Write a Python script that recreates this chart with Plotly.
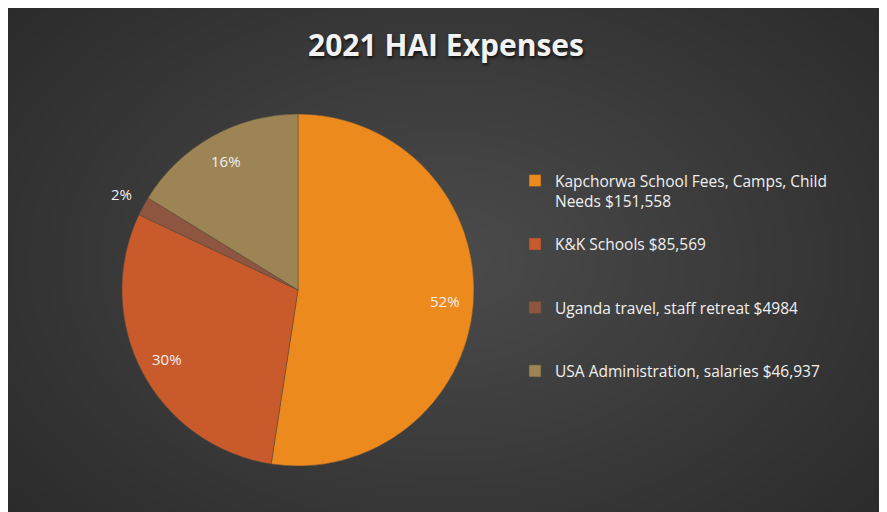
import numpy as np
import plotly.graph_objects as go

labels = [
    "Kapchorwa School Fees, Camps, Child<br>Needs $151,558",
    "K&K Schools $85,569",
    "Uganda travel, staff retreat $4984",
    "USA Administration, salaries $46,937",
]
values = [151558, 85569, 4984, 46937]
colors = ["#ec8a1e", "#c85a2c", "#8e5640", "#9c8455"]
title_text = "2021 HAI Expenses"

# figure sits inside the page body margin (8px)
W, H = 876, 504
CX, CY, R = 290, 282, 176  # pie centre / radius in figure pixels

# background radial gradient (styling only)
gx = np.linspace(0, 1, 60)
gy = np.linspace(0, 1, 40)
X, Y = np.meshgrid(gx, gy)
dist = np.sqrt(((X - 0.5) / 0.75) ** 2 + ((Y - 0.5) / 0.9) ** 2)
Z = 1 - np.clip(dist, 0, 1)

fig = go.Figure()
fig.add_trace(go.Heatmap(
    x=gx, y=gy, z=Z, zsmooth="best", showscale=False, hoverinfo="skip",
    colorscale=[[0, "#262626"], [1, "#4b4b4b"]], zmin=0.0, zmax=1.0,
    xaxis="x", yaxis="y", showlegend=False,
))

legend_labels = []
for i, l in enumerate(labels):
    legend_labels.append(l + ("<br> " if i == 0 else "<br> <br> "))

fig.add_trace(go.Pie(
    labels=legend_labels,
    values=values,
    sort=False,
    direction="clockwise",
    rotation=0,
    marker=dict(colors=colors, line=dict(color="#5a4a3a", width=0.5)),
    textinfo="none",
    domain=dict(x=[(CX - R) / W, (CX + R) / W],
                y=[(H - CY - R) / H, (H - CY + R) / H]),
    hoverinfo="label+value+percent",
))

# percentage labels placed Excel-style along each slice's mid angle
total = float(sum(values))
cum = 0.0
annotations = []
for v in values:
    frac = v / total
    mid = (cum + frac / 2) * 2 * np.pi
    cum += frac
    f = 0.84 if frac > 0.05 else 1.14
    px = CX + f * R * np.sin(mid)
    py = CY - f * R * np.cos(mid)
    annotations.append(dict(
        x=px / W, y=1 - py / H, xref="paper", yref="paper",
        text=f"{round(frac * 100)}%", showarrow=False,
        xanchor="center", yanchor="middle",
        font=dict(family="Open Sans", size=15, color="#f0f0f0"),
    ))

fig.update_layout(
    width=W, height=H,
    margin=dict(l=0, r=0, t=0, b=0),
    paper_bgcolor="#333333",
    plot_bgcolor="rgba(0,0,0,0)",
    xaxis=dict(domain=[0, 1], range=[0, 1], visible=False, fixedrange=True),
    yaxis=dict(domain=[0, 1], range=[0, 1], visible=False, fixedrange=True),
    title=dict(
        text=title_text, x=438 / W, xanchor="center", y=1 - 37 / H, yanchor="middle",
        font=dict(family="Open Sans", size=30, color="#f2f2f2", weight="bold",
                  shadow="1px 2px 3px #111"),
    ),
    legend=dict(
        x=507 / W, xanchor="left", y=1 - 156 / H, yanchor="top",
        font=dict(family="Open Sans", size=15.5, color="#f0f0f0"),
        valign="top", bgcolor="rgba(0,0,0,0)",
    ),
    annotations=annotations,
    showlegend=True,
)

fig.write_html("out.html")
